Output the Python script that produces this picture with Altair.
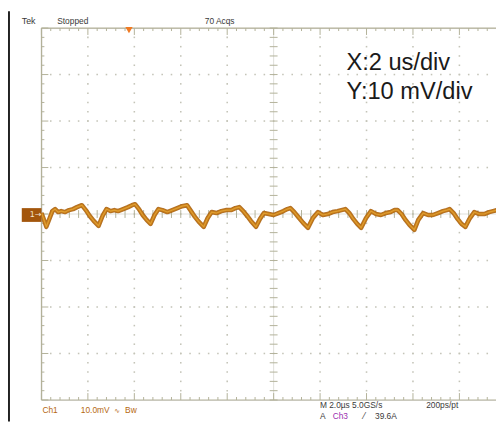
import altair as alt
import pandas as pd

# ---- Ch1 waveform (time in µs, voltage in mV) ----
t_us = [0.00, 0.08, 0.21, 0.34, 0.47, 0.59, 0.72, 0.85, 1.02, 1.19, 1.36, 1.53, 1.74, 1.91, 2.08, 2.25,
        2.46, 2.63, 2.80, 2.97, 3.14, 3.30, 3.52, 3.73, 3.90, 4.03, 4.20, 4.36, 4.53,
        4.70, 4.87, 5.04, 5.21, 5.42, 5.64, 5.85, 6.06, 6.27, 6.44, 6.61, 6.78,
        6.99, 7.16, 7.33, 7.54, 7.75, 7.97, 8.18, 8.35, 8.52, 8.69, 8.86, 9.02,
        9.24, 9.41, 9.58, 9.79, 10.00, 10.21, 10.42, 10.59, 10.72, 10.89, 11.06, 11.27,
        11.48, 11.69, 11.91, 12.12, 12.33, 12.54, 12.75, 12.92, 13.09, 13.26, 13.43, 13.60,
        13.77, 13.98, 14.19, 14.41, 14.62, 14.83, 15.04, 15.21, 15.34, 15.51, 15.68, 15.85,
        16.06, 16.23, 16.44, 16.65, 16.86, 17.08, 17.29, 17.46, 17.58, 17.75, 17.92, 18.09,
        18.26, 18.43, 18.64, 18.86, 19.07, 19.28, 19.45, 19.62]
v_mV = [0.21, -0.85, -2.75, -1.06, 0.63, 1.06, 0.42, 0.63, 0.42, 0.85, 1.06, 1.48, 1.90, 0.85, -0.42, -1.48,
        -2.54, -0.42, 1.06, 0.63, 0.85, 0.63, 1.06, 1.48, 1.90, 2.12, 1.06, -0.21, -1.27,
        -2.12, -0.21, 1.06, 0.85, 0.42, 0.85, 1.27, 1.69, 1.90, 0.63, -0.63, -1.69,
        -2.75, -0.85, 0.42, 0.21, 0.63, 0.85, 0.85, 1.27, 1.48, 0.63, -0.42, -1.48,
        -2.75, -1.06, 0.21, 0.00, -0.21, 0.21, 0.63, 1.06, 1.27, 0.42, -0.63, -1.90,
        -2.96, -0.85, 0.42, -0.21, 0.00, 0.42, 0.63, 0.85, 1.06, 0.21, -1.06, -2.12,
        -2.96, -0.85, 0.63, 0.00, -0.21, 0.21, 0.42, 0.85, 0.85, 0.00, -1.27, -2.33,
        -3.39, -1.27, 0.21, -0.21, -0.21, 0.21, 0.63, 0.85, 1.06, 0.21, -1.06, -2.12,
        -2.75, -1.06, 0.42, 0.00, 0.00, 0.42, 0.63, 0.85]

# ---- scope settings ----
X_PER_DIV = 2.0      # µs/div
Y_PER_DIV = 10.0     # mV/div
N_XDIV = 10
N_YDIV = 8
MINOR = 5
TRIGGER_T = 3.77     # µs, trigger position marker

FULL_W = 472          # full graticule width (px), right part is cut off in the picture
PLOT_W = 462
PLOT_H = 378
X_MAX = X_PER_DIV * N_XDIV * PLOT_W / FULL_W
Y_MAX = Y_PER_DIV * N_YDIV / 2
XPX = X_PER_DIV * N_XDIV / FULL_W   # µs per pixel
YPX = 2 * Y_MAX / PLOT_H            # mV per pixel

GRID = "#b3b199"
DOT = "#c4c4b8"

xs = alt.Scale(domain=[0, X_MAX], nice=False, zero=False)
ys = alt.Scale(domain=[-Y_MAX, Y_MAX], nice=False, zero=False)

# ---- graticule pieces ----
rules = []
rules.append(dict(x=0, x2=X_MAX, y=Y_MAX, y2=Y_MAX, w=1.2))
rules.append(dict(x=0, x2=X_MAX, y=-Y_MAX, y2=-Y_MAX, w=1.2))
rules.append(dict(x=0, x2=0, y=-Y_MAX, y2=Y_MAX, w=1.2))
step_x = X_PER_DIV / MINOR
step_y = Y_PER_DIV / MINOR
cx = X_PER_DIV * N_XDIV / 2
for i in range(N_XDIV * MINOR + 1):
    xv = i * step_x
    if xv > X_MAX:
        continue
    ln = 7 if i % MINOR == 0 else 3
    rules.append(dict(x=xv, x2=xv, y=Y_MAX, y2=Y_MAX - ln * YPX, w=1))
    rules.append(dict(x=xv, x2=xv, y=-Y_MAX, y2=-Y_MAX + ln * YPX, w=1))
    rules.append(dict(x=xv, x2=xv, y=-4 * YPX, y2=4 * YPX, w=1))
for j in range(-N_YDIV // 2 * MINOR, N_YDIV // 2 * MINOR + 1):
    yv = j * step_y
    ln = 7 if j % MINOR == 0 else 3
    rules.append(dict(x=0, x2=ln * XPX, y=yv, y2=yv, w=1))
    rules.append(dict(x=cx - 4 * XPX, x2=cx + 4 * XPX, y=yv, y2=yv, w=1))
rules_df = pd.DataFrame(rules)

center_df = pd.DataFrame([
    dict(x=0, x2=X_MAX, y=0, y2=0),
    dict(x=cx, x2=cx, y=-Y_MAX, y2=Y_MAX),
])

dots = []
for k in range(1, N_XDIV):
    if k == N_XDIV // 2:
        continue
    for j in range(-N_YDIV // 2 * MINOR + 1, N_YDIV // 2 * MINOR):
        dots.append(dict(x=k * X_PER_DIV, y=j * step_y))
for m in range(-N_YDIV // 2 + 1, N_YDIV // 2):
    if m == 0:
        continue
    for i in range(1, N_XDIV * MINOR):
        xv = i * step_x
        if xv <= X_MAX:
            dots.append(dict(x=xv, y=m * Y_PER_DIV))
dots_df = pd.DataFrame(dots)

wave_df = pd.DataFrame({"t": t_us, "v": v_mV})

base_x = alt.X("x:Q", scale=xs, axis=None)
base_y = alt.Y("y:Q", scale=ys, axis=None)

grid_rules = alt.Chart(rules_df).mark_rule(color=GRID).encode(
    x=base_x, x2="x2:Q", y=base_y, y2="y2:Q",
    strokeWidth=alt.StrokeWidth("w:Q", scale=None, legend=None))
center_lines = alt.Chart(center_df).mark_rule(color="#c9c9c0", strokeWidth=1, opacity=0.6).encode(
    x=base_x, x2="x2:Q", y=base_y, y2="y2:Q")
grid_dots = alt.Chart(dots_df).mark_square(color=DOT, size=2.5, opacity=1).encode(x=base_x, y=base_y)

wx = alt.X("t:Q", scale=xs, axis=None)
wy = alt.Y("v:Q", scale=ys, axis=None)
wave_outer = alt.Chart(wave_df).mark_line(color="#a85f0e", strokeWidth=4.6, opacity=0.9,
                                           strokeJoin="round", clip=True).encode(x=wx, y=wy)
wave_mid = alt.Chart(wave_df).mark_line(color="#c47a18", strokeWidth=3, strokeJoin="round", clip=True).encode(x=wx, y=wy)
wave_inner = alt.Chart(wave_df).mark_line(color="#e2a234", strokeWidth=1.2, opacity=0.9,
                                           strokeJoin="round", clip=True).encode(x=wx, y=wy)

trig_df = pd.DataFrame({"x": [TRIGGER_T], "y": [Y_MAX]})
trigger = alt.Chart(trig_df).mark_point(shape="triangle-down", filled=True, color="#f07a22",
                                         size=55, opacity=1, yOffset=2).encode(x=base_x, y=base_y)

ch_box = alt.Chart(pd.DataFrame({"a": [0]})).mark_rect(color="#a3560c").encode(
    x=alt.value(-20), x2=alt.value(0), y=alt.value(183), y2=alt.value(197))
ch_txt = alt.Chart(pd.DataFrame({"a": [0]})).mark_text(
    text="1→", color="#f4e6d0", font="DejaVu Sans", fontSize=8, align="left", baseline="middle").encode(
    x=alt.value(-12), y=alt.value(190))

frame = alt.Chart(pd.DataFrame({"a": [0]})).mark_rule(color="#222222", strokeWidth=2).encode(
    x=alt.value(-33), y=alt.value(-17), y2=alt.value(400))

def label(txt, px, py, color="#3a3a3a", size=8.5, font="Liberation Sans"):
    return alt.Chart(pd.DataFrame({"a": [0]})).mark_text(
        text=txt, color=color, fontSize=size, font=font, align="left", baseline="alphabetic").encode(
        x=alt.value(px), y=alt.value(py))

labels = [
    label("Tek", -20, -4, size=9),
    label("Stopped", 16, -4),
    label("70 Acqs", 166, -4),
    label("Ch1", 1, 391, color="#b5670f"),
    label("10.0mV", 40, 391, color="#b5670f"),
    label("∿", 74, 391, color="#b5670f", font="DejaVu Sans", size=7),
    label("Bw", 85, 391, color="#b5670f"),
    label("M 2.0µs 5.0GS/s", 283, 386),
    label("200ps/pt", 391, 386),
    label("A", 283, 397),
    label("Ch3", 296, 397, color="#9b2fb0"),
    label("⁄", 327, 397, font="DejaVu Sans"),
    label("39.6A", 339, 397),
    label("X:2 us/div", 310, 43, color="#1a1a1a", size=24),
    label("Y:10 mV/div", 310, 72, color="#1a1a1a", size=24),
]

chart = alt.layer(
    frame, center_lines, grid_dots, grid_rules, wave_outer, wave_mid, wave_inner, trigger, ch_box, ch_txt, *labels
).properties(
    width=PLOT_W, height=PLOT_H,
    autosize=alt.AutoSizeParams(type="none"),
    padding={"left": 34, "top": 17, "right": 0, "bottom": 20},
).configure_view(stroke=None).configure(background="white")

chart.save("out.html", embed_options={"renderer": "svg", "actions": False})
